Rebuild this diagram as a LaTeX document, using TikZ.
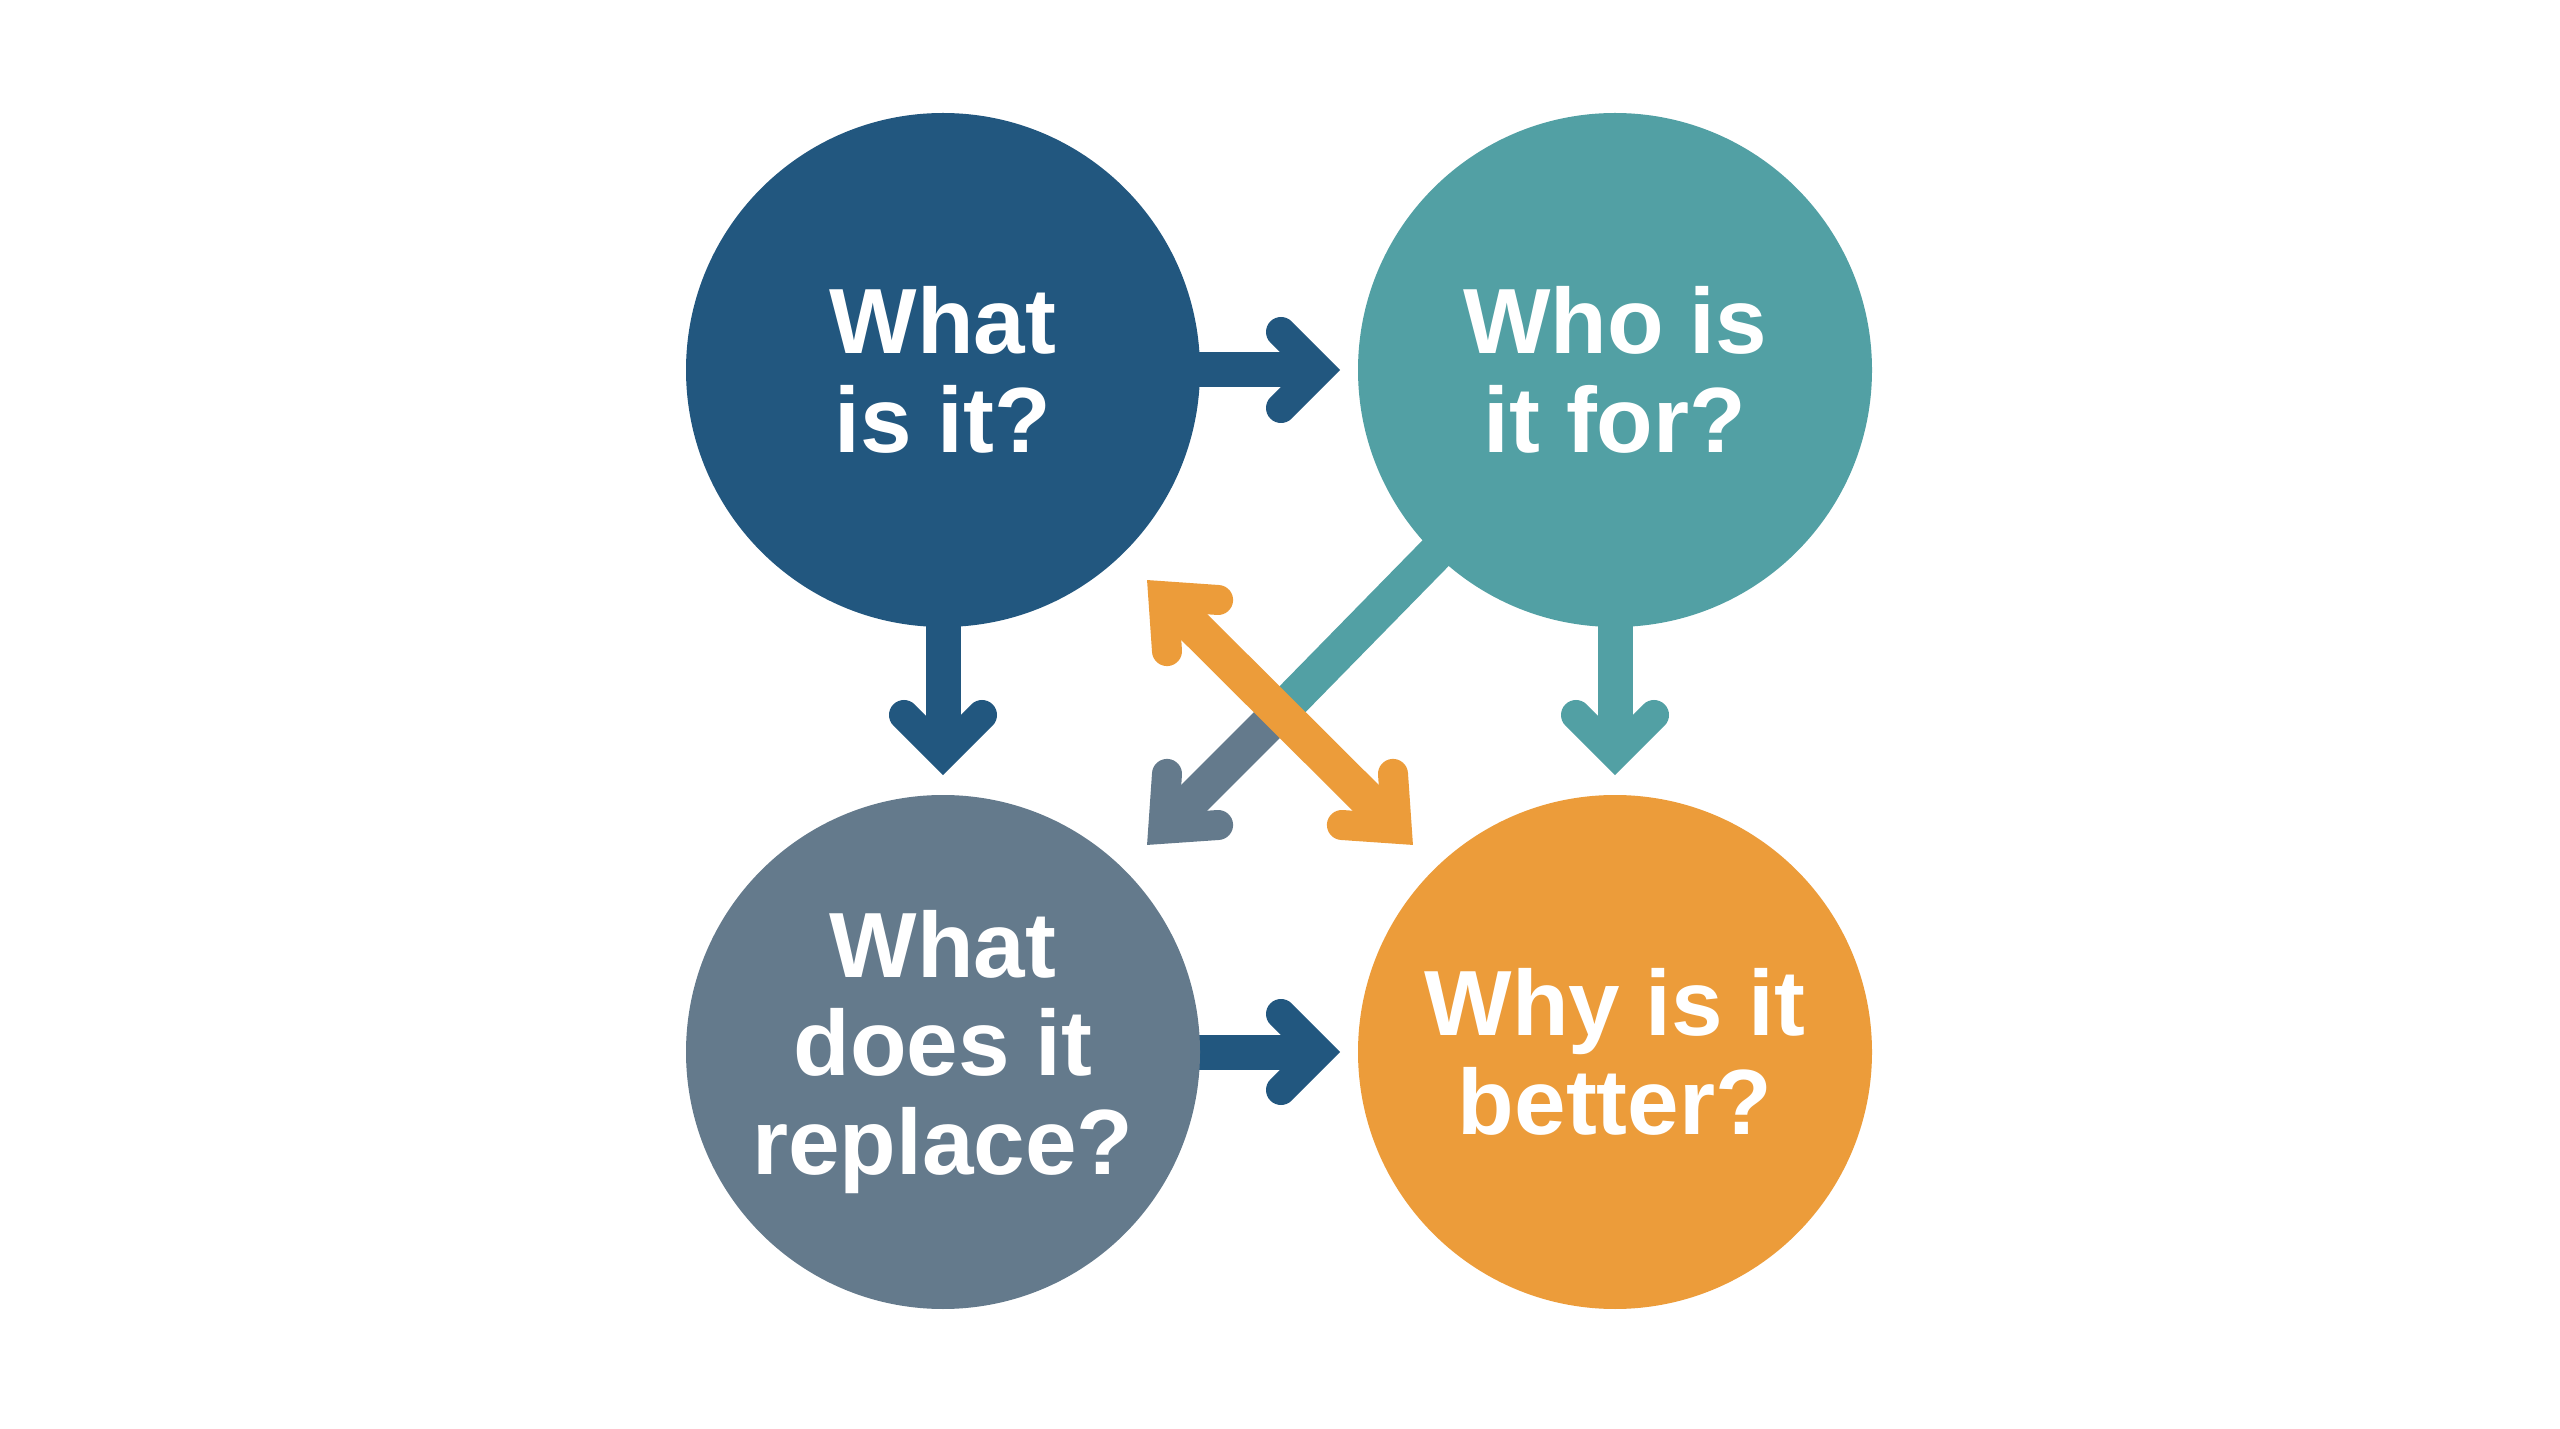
\documentclass[tikz,border=0pt]{standalone}
\usepackage{fontspec}
\setmainfont{Liberation Sans}
\usetikzlibrary{calc}
\definecolor{cblue}{HTML}{22577F}
\definecolor{cteal}{HTML}{52A0A4}
\definecolor{cslate}{HTML}{647A8C}
\definecolor{corange}{HTML}{EC9C3A}
\pgfdeclarelayer{back}
\pgfdeclarelayer{bg}
\pgfsetlayers{back,bg,main}
\begin{document}
\begin{tikzpicture}[x=0.3pt,y=-0.3pt,
  bubble/.style={circle, minimum size=154.2pt, inner sep=0pt, text=white, align=center,
    font=\fontsize{27.8}{29.6}\selectfont\bfseries},
  shaft/.style={line width=10.5pt, line cap=butt},
  dshaft/.style={line width=11pt, line cap=butt},
  barb/.style={line width=9pt, line cap=round, line join=miter, miter limit=10},
]
\begin{pgfonlayer}{back}
\fill[white] (0,0) rectangle (2560,1429);
\end{pgfonlayer}
\useasboundingbox (0,0) rectangle (2560,1429);

% circles
\node[bubble, fill=cblue]   (TL) at (943,370)  {What\\is it?};
\node[bubble, fill=cteal]   (TR) at (1615,370) {Who is\\it for?};
\node[bubble, fill=cslate]  (BL) at (943,1052) {What\\does it\\replace?};
\node[bubble, fill=corange] (BR) at (1615,1052) {Why is it\\better?};

% head vertices and arm ends
\coordinate (v1) at (1319,370);  \coordinate (a1) at (1281,332);  \coordinate (b1) at (1281,408);
\coordinate (v2) at (943,754);   \coordinate (a2) at (904,715);   \coordinate (b2) at (982,715);
\coordinate (v3) at (1615,754);  \coordinate (a3) at (1576,715);  \coordinate (b3) at (1654,715);
\coordinate (v4) at (1319,1052); \coordinate (a4) at (1281,1014); \coordinate (b4) at (1281,1090);
% diagonal heads
\coordinate (vo1) at (1163.2,596.2); \coordinate (ao1) at (1218.1,600.0); \coordinate (bo1) at (1167.0,651.1);
\coordinate (vo2) at (1396.8,828.8); \coordinate (ao2) at (1341.9,825.0); \coordinate (bo2) at (1393.0,773.9);
\coordinate (vg)  at (1163.2,828.8); \coordinate (ag)  at (1218.1,825.0); \coordinate (bg)  at (1167.0,773.9);
\coordinate (X) at (1280,712);

\begin{pgfonlayer}{bg}
  \draw[shaft, cblue] (TL.center) -- (v1);
  \draw[shaft, cblue] (TL.center) -- (v2);
  \draw[shaft, cteal] (TR.center) -- (v3);
  \draw[shaft, cblue] (BL.center) -- (v4);
  \draw[dshaft, cteal] (TR.center) -- (X);
  \draw[dshaft, cslate] (X) -- (vg);
\end{pgfonlayer}

% straight heads
\draw[barb, cblue] (a1) -- (v1) -- (b1);
\draw[barb, cblue] (a2) -- (v2) -- (b2);
\draw[barb, cteal] (a3) -- (v3) -- (b3);
\draw[barb, cblue] (a4) -- (v4) -- (b4);
% gray diagonal head
\draw[barb, cslate] (ag) -- (vg) -- (bg);
% orange double arrow
\draw[dshaft, corange] (vo1) -- (vo2);
\draw[barb, corange] (ao1) -- (vo1) -- (bo1);
\draw[barb, corange] (ao2) -- (vo2) -- (bo2);
\end{tikzpicture}
\end{document}
